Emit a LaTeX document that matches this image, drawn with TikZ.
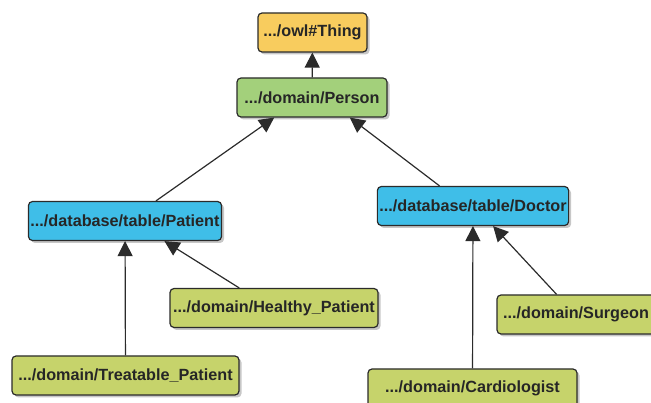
\documentclass[tikz,border=0pt]{standalone}
\usepackage{fontspec}
\setmainfont{Liberation Sans}
\usepackage{tikz}
\usetikzlibrary{arrows.meta,shadows}
\definecolor{owlfill}{HTML}{F8CC5E}
\definecolor{personfill}{HTML}{A3D07B}
\definecolor{tablefill}{HTML}{3FBEE8}
\definecolor{domainfill}{HTML}{C6D36B}
\definecolor{edgecol}{HTML}{2B2B2B}
\tikzset{
    auto,
    cls/.style = {
        draw=edgecol,
        shape=rectangle,
        rounded corners=4pt,
        minimum height=39pt,
        inner xsep=2pt,
        line width=1.2pt,
        text=black!85,
        font=\fontsize{16.2}{19}\selectfont\bfseries,
        drop shadow={shadow xshift=2.5pt,shadow yshift=-2.5pt,fill=black!22,opacity=1}
    },
    owlcls/.style = {cls, fill=owlfill},
    personcls/.style = {cls, fill=personfill},
    tablecls/.style = {cls, fill=tablefill},
    domaincls/.style = {cls, fill=domainfill},
    link/.style = {draw=edgecol, line width=1.2pt},
    >={Triangle[width=15pt,length=15pt]},
}

\begin{document}
\begin{tikzpicture}[x=1pt,y=-1pt]
            \clip (0,0) rectangle (651,403);
            \node[owlcls, minimum width=109pt] (thing) at (312.5,32.5) {.../owl\#Thing};
            \node[personcls, minimum width=150pt] (person) at (312,97.5) {.../domain/Person};
            \node[tablecls, minimum width=190pt] (patient) at (125,221) {.../database/table/Patient};
            \node[tablecls, minimum width=190pt] (doctor) at (473,206) {.../database/table/Doctor};
            \node[domaincls, minimum width=208pt] (healthy) at (274,308) {.../domain/Healthy\_Patient};
            \node[domaincls, minimum width=227pt] (treatable) at (125.5,375.5) {.../domain/Treatable\_Patient};
            \node[domaincls, minimum width=158pt] (surgeon) at (576,314.5) {.../domain/Surgeon};
            \node[domaincls, minimum width=209pt] (cardio) at (472.5,388.5) {.../domain/Cardiologist};

            \path[link, ->] (person) -- (thing);
            \path[link, ->] (patient.33) -- (person.208);
            \path[link, ->] (doctor.149) -- (person.332);
            \path[link, ->] (treatable) -- (patient);
            \path[link, ->] (healthy.150) -- (patient.333);
            \path[link, ->] (cardio) -- (doctor);
            \path[link, ->] (surgeon.134) -- (doctor.315);
        \end{tikzpicture}
\end{document}
